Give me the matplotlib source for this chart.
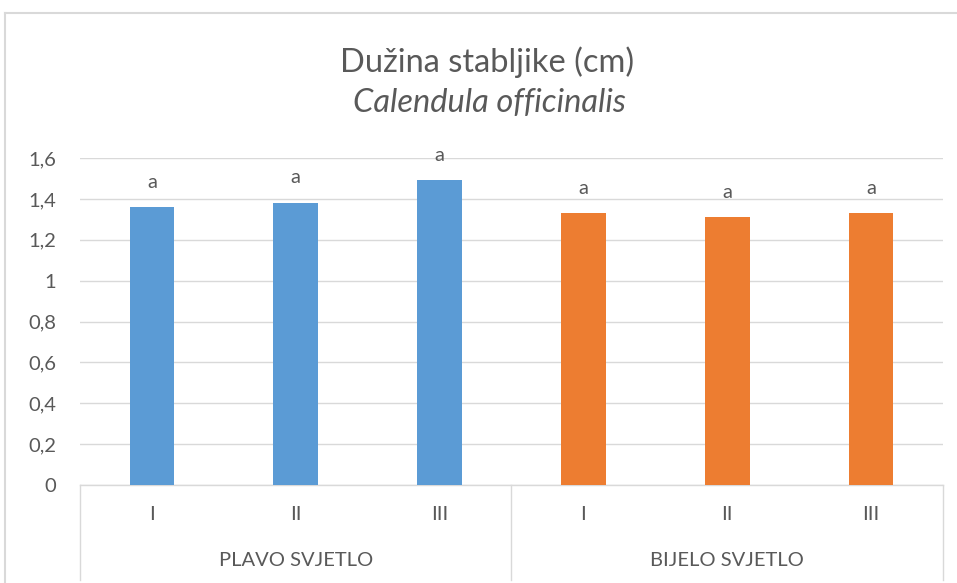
import matplotlib.pyplot as plt
from matplotlib.lines import Line2D
from matplotlib.transforms import blended_transform_factory

# data
groups = ['PLAVO SVJETLO', 'BIJELO SVJETLO']
categories = ['I', 'II', 'III', 'I', 'II', 'III']
values = [1.36, 1.38, 1.49, 1.33, 1.31, 1.33]
letters = ['a', 'a', 'a', 'a', 'a', 'a']
yticks = [0, 0.2, 0.4, 0.6, 0.8, 1.0, 1.2, 1.4, 1.6]

blue = '#5B9BD5'
orange = '#ED7D31'
text_col = '#595959'
grid_col = '#D9D9D9'
colors = [blue] * 3 + [orange] * 3

plt.rcParams['font.family'] = ['Lato', 'DejaVu Sans']

W, H = 957, 583
fig = plt.figure(figsize=(W / 100, H / 100), dpi=100)
ax = fig.add_axes([80 / W, (H - 485) / H, (943 - 80) / W, (485 - 158) / H])

x = list(range(len(values)))
ax.bar(x, values, width=0.31, color=colors, zorder=3)
ax.set_xlim(-0.5, len(values) - 0.5)
ax.set_ylim(0, 1.6)

ax.set_yticks(yticks)
ax.set_yticklabels([('%g' % v).replace('.', ',') for v in yticks])
ax.tick_params(axis='y', length=0, pad=17, labelsize=14.5, labelcolor=text_col)
ax.set_xticks([])
ax.yaxis.grid(True, color=grid_col, linewidth=1)
ax.set_axisbelow(True)
for s in ['top', 'right', 'left']:
    ax.spines[s].set_visible(False)
ax.spines['bottom'].set_color(grid_col)
ax.spines['bottom'].set_linewidth(1)

for xi, v, l in zip(x, values, letters):
    ax.annotate(l, (xi, v), xytext=(0, 18), textcoords='offset points',
                ha='center', va='center', fontsize=14.5, color=text_col)

# category axis labels
trans = blended_transform_factory(ax.transData, ax.transAxes)
ax_h = 485 - 158
for xi, c in zip(x, categories):
    ax.text(xi, -(515 - 485) / ax_h, c, transform=trans, ha='center', va='center',
            fontsize=14.5, color=text_col)
for gi, g in enumerate(groups):
    ax.text(gi * 3 + 1, -(561 - 485) / ax_h, g, transform=trans, ha='center',
            va='center', fontsize=14.5, color=text_col)
for sep in [-0.5, 2.5, 5.5]:
    ax.plot([sep, sep], [0, -(580 - 485) / ax_h], transform=trans, color=grid_col,
            linewidth=1, clip_on=False)

# titles
fig.text(487 / W, 1 - 62 / H, 'Dužina stabljike (cm)', ha='center', va='center',
         fontsize=23.5, color=text_col)
fig.text(489 / W, 1 - 103 / H, 'Calendula officinalis', ha='center', va='center',
         fontsize=23.5, style='italic', color=text_col)

# chart border
fig.add_artist(Line2D([5 / W, 1], [1 - 13 / H, 1 - 13 / H], color=grid_col, linewidth=1.5))
fig.add_artist(Line2D([5 / W, 5 / W], [0, 1 - 13 / H], color=grid_col, linewidth=1.5))

fig.savefig('out.png', dpi=100)
